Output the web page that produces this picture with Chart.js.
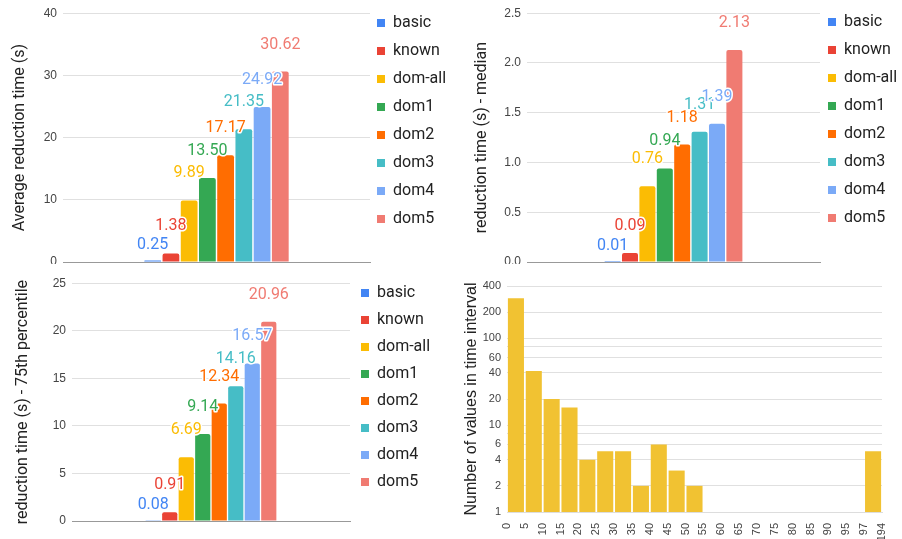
<!DOCTYPE html>
<html><head><meta charset="utf-8">
<script src="https://cdn.jsdelivr.net/npm/chart.js@4"></script>
<style>
html,body{margin:0;padding:0;background:#fff;}
body{width:902px;height:539px;position:relative;overflow:hidden;}
.panel{position:absolute;overflow:hidden;}
canvas{display:block;}
</style></head><body>
<div class="panel" style="left:0;top:0;width:450px;height:264px"><canvas id="c1" width="470" height="280"></canvas></div>
<div class="panel" style="left:450px;top:0;width:452px;height:264px"><canvas id="c2" width="470" height="280"></canvas></div>
<div class="panel" style="left:0;top:270px;width:450px;height:269px"><canvas id="c3" width="470" height="269"></canvas></div>
<div class="panel" style="left:450px;top:270px;width:452px;height:269px"><canvas id="c4" width="452" height="269"></canvas></div>
<script>
// ---- data ----
const seriesNames = ['basic', 'known', 'dom-all', 'dom1', 'dom2', 'dom3', 'dom4', 'dom5'];
const seriesColors = ['#4285F4', '#EA4335', '#FBBC04', '#34A853', '#FF6D01', '#46BDC6', '#7BAAF7', '#F07B72'];
const avgTime = [0.25, 1.38, 9.89, 13.50, 17.17, 21.35, 24.92, 30.62];
const medianTime = [0.01, 0.09, 0.76, 0.94, 1.18, 1.31, 1.39, 2.13];
const p75Time = [0.08, 0.91, 6.69, 9.14, 12.34, 14.16, 16.57, 20.96];
const histEdgeLabels = ['0','5','10','15','20','25','30','35','40','45','50','55','60','65','70','75','80','85','90','95','97','194'];
const histCounts = [290, 42, 20, 16, 4, 5, 5, 2, 6, 3, 2, null, null, null, null, null, null, null, null, null, 5];
const histTicks = [1, 2, 4, 6, 8, 10, 20, 40, 60, 80, 100, 200, 400];
const histTickLabels = ['1', '2', '4', '6', '', '10', '20', '40', '60', '', '100', '200', '400'];

Chart.defaults.font.family = 'Roboto';

const valueLabels = {
  id: 'valueLabels',
  afterDatasetsDraw(chart, args, opts) {
    const ctx = chart.ctx;
    ctx.save();
    ctx.font = '16px Roboto';
    ctx.textAlign = 'center';
    ctx.textBaseline = 'middle';
    ctx.lineJoin = 'round';
    ctx.lineWidth = 3;
    ctx.strokeStyle = '#ffffff';
    chart.data.datasets.forEach((ds, d) => {
      const meta = chart.getDatasetMeta(d);
      meta.data.forEach((bar, i) => {
        const v = ds.data[i];
        if (v === null || v === undefined) return;
        const text = Number(v).toFixed(2);
        const h = bar.base - bar.y;
        const y = bar.y - (h < opts.minBar ? opts.nearOffset : opts.offset);
        ctx.strokeText(text, bar.x, y);
        ctx.fillStyle = ds.backgroundColor;
        ctx.fillText(text, bar.x, y);
      });
    });
    ctx.restore();
  }
};

// fixes the legend box width and nudges where its items start
const legendShift = {
  id: 'legendShift',
  beforeLayout(chart, args, opts) {
    const l = chart.legend;
    if (l && !l._fixedFit) {
      const orig = l.fit.bind(l);
      l.fit = function () { orig(); this.width = opts.width; };
      l._fixedFit = true;
    }
  },
  afterLayout(chart, args, opts) {
    const l = chart.legend;
    if (!l) return;
    l.left += opts.dx; l.right += opts.dx;
    l.top += opts.dy; l.bottom += opts.dy;
  }
};

function groupedBar(id, values, title, yMax, yStep, tickFmt, g) {
  return new Chart(document.getElementById(id), {
    type: 'bar',
    data: {
      labels: [''],
      datasets: seriesNames.map((n, i) => ({
        label: n,
        data: [values[i]],
        backgroundColor: seriesColors[i],
        borderWidth: 0,
        borderRadius: 2,
        barPercentage: 0.92,
        categoryPercentage: 0.475
      }))
    },
    plugins: [valueLabels, legendShift],
    options: {
      responsive: false,
      animation: false,
      layout: { padding: { left: 0, top: g.top, right: 0, bottom: 0 } },
      plugins: {
        legend: {
          position: 'right', align: 'start',
          labels: { boxWidth: 8, boxHeight: 8, padding: g.legendPad, color: '#222', font: { family: 'Roboto', size: 16 } }
        },
        tooltip: { enabled: false },
        legendShift: { width: g.legendW, dx: g.dx, dy: g.dy },
        valueLabels: { offset: 27, nearOffset: 15, minBar: 5 }
      },
      scales: {
        x: {
          grid: { display: false },
          border: { color: '#999' },
          ticks: { display: false },
          afterFit: s => { s.height = g.xh; }
        },
        y: {
          min: 0, max: yMax,
          ticks: { stepSize: yStep, padding: 6, color: '#444', font: { family: "'Liberation Sans', Arial", size: 12 }, callback: tickFmt },
          grid: { color: '#e0e0e0', drawTicks: false },
          border: { display: false },
          title: { display: true, text: title, color: '#222', font: { family: 'Roboto', size: 16 }, padding: { top: g.titlePad, bottom: 0 } },
          afterFit: s => { s.width = g.left; }
        }
      }
    }
  });
}

groupedBar('c1', avgTime, 'Average reduction time (s)', 40, 10, v => String(v),
  { top: 11, legendW: 100, legendPad: 12, dx: -5, dy: -8, xh: 18, left: 63, titlePad: 10.4 });
groupedBar('c2', medianTime, 'reduction time (s) - median', 2.5, 0.5, v => Number(v).toFixed(1),
  { top: 11, legendW: 100, legendPad: 12, dx: -4, dy: -9, xh: 18, left: 77, titlePad: 22.4 });
groupedBar('c3', p75Time, 'reduction time (s) - 75th percentile', 25, 5, v => String(v),
  { top: 12, legendW: 120, legendPad: 11, dx: 0, dy: -8, xh: 18, left: 72, titlePad: 13.4 });

new Chart(document.getElementById('c4'), {
  type: 'bar',
  data: {
    datasets: [{
      data: histCounts.map((c, i) => ({ x: i + 0.5, y: c })),
      backgroundColor: '#F1C232',
      borderWidth: 0,
      barPercentage: 0.9,
      categoryPercentage: 1
    }]
  },
  options: {
    responsive: false,
    animation: false,
    layout: { padding: { left: 0, top: 16, right: 20, bottom: 0 } },
    plugins: { legend: { display: false }, tooltip: { enabled: false } },
    scales: {
      x: {
        type: 'linear', min: 0, max: 21, offset: false,
        grid: { display: false, offset: false },
        border: { color: '#ddd' },
        ticks: {
          stepSize: 1, autoSkip: false, maxRotation: 90, minRotation: 90, padding: 3,
          color: '#444', font: { family: "'Liberation Sans', Arial", size: 11 },
          callback: v => histEdgeLabels[v]
        },
        afterFit: s => { s.height = 27; }
      },
      y: {
        type: 'logarithmic', min: 1, max: 400,
        afterBuildTicks: s => { s.ticks = histTicks.map(v => ({ value: v })); },
        ticks: {
          autoSkip: false, padding: 6, color: '#444', font: { family: "'Liberation Sans', Arial", size: 11 },
          callback: v => histTickLabels[histTicks.indexOf(v)]
        },
        grid: { color: '#e0e0e0', drawTicks: false },
        border: { display: false },
        title: { display: true, text: 'Number of values in time interval', color: '#222', font: { family: "'Liberation Sans', Arial", size: 16 }, padding: { top: 12.4, bottom: 0 } },
        afterFit: s => { s.width = 57; }
      }
    }
  }
});
</script>
</body></html>
